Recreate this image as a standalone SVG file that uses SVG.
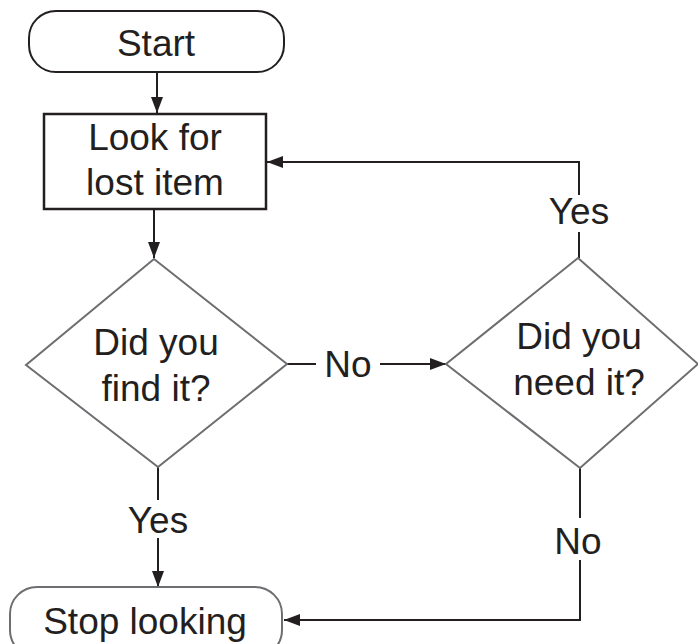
<svg xmlns="http://www.w3.org/2000/svg" width="698" height="644" viewBox="0 0 698 644">
<defs>
<marker id="ah" markerUnits="userSpaceOnUse" markerWidth="17" markerHeight="13" refX="16" refY="6" orient="auto">
<path d="M0,0 L16,6 L0,12 z" fill="#231f20"/>
</marker>
<style>
text{font-family:"Liberation Sans",Arial,sans-serif;font-size:37px;fill:#231f20;text-anchor:middle}
.term{fill:#fff;stroke:#231f20;stroke-width:2}
.term2{fill:#fff;stroke:#6d6e71;stroke-width:2}
.proc{fill:#fff;stroke:#231f20;stroke-width:2.5}
.dec{fill:#fff;stroke:#6d6e71;stroke-width:2}
.c{fill:none;stroke:#231f20;stroke-width:2}
</style>
</defs>
<rect width="698" height="644" fill="#fff"/>
<g id="connectors">
<path class="c" d="M157 72 V113" marker-end="url(#ah)"/>
<path class="c" d="M154 209 V258" marker-end="url(#ah)"/>
<path class="c" d="M287 364 H316"/>
<path class="c" d="M380 364 H446" marker-end="url(#ah)"/>
<text x="348" y="377">No</text>
<path class="c" d="M579 258 V232"/>
<path class="c" d="M579 195 V162 H267" marker-end="url(#ah)"/>
<text x="579" y="224">Yes</text>
<path class="c" d="M580 468 V518"/>
<path class="c" d="M580 560 V620 H284" marker-end="url(#ah)"/>
<text x="578" y="554">No</text>
<path class="c" d="M158 467 V500"/>
<path class="c" d="M158 538 V587" marker-end="url(#ah)"/>
<text x="158" y="533">Yes</text>
</g>
<g id="start">
<rect class="term" x="29" y="11" width="255" height="61" rx="27" ry="27"/>
<text x="156" y="56">Start</text>
</g>
<g id="look">
<rect class="proc" x="44" y="114" width="222" height="95"/>
<text x="155" y="150">Look for</text>
<text x="155" y="195">lost item</text>
</g>
<g id="found">
<polygon class="dec" points="154,259 287,364 158,467 26,365"/>
<text x="156" y="355">Did you</text>
<text x="156" y="401">find it?</text>
</g>
<g id="need">
<polygon class="dec" points="578,258 698,364 580,468 446,364"/>
<text x="579" y="349">Did you</text>
<text x="579" y="395">need it?</text>
</g>
<g id="stop">
<rect class="term2" x="10" y="587" width="272" height="70" rx="27" ry="27"/>
<text x="145" y="634">Stop looking</text>
</g>
</svg>
